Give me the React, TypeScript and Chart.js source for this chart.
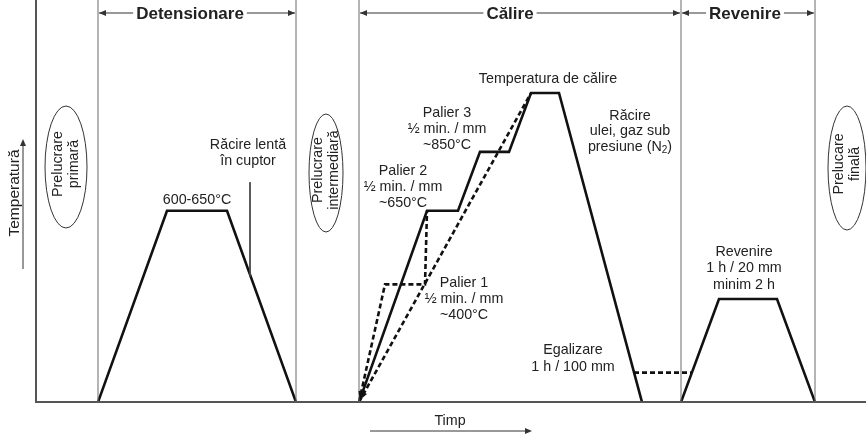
import React, { useEffect, useRef } from "react";
import { Chart, registerables } from "chart.js";
Chart.register(...registerables);

// ---- Data (time in arbitrary units, temperature in °C) ----
const timeMin = -36;
const timeMax = 830;
const tempMin = -122;
const tempMax = 1366;

const separatorTimes = [62, 260, 323, 645, 779];

const detensionareTime = [62, 131, 191, 260];
const detensionareTemp = [0, 650, 650, 0];

const calireTime = [323, 391, 422, 444, 473, 495, 523, 606];
const calireTemp = [0, 650, 650, 850, 850, 1050, 1050, 0];

const palier1Time = [323, 349, 389, 391];
const palier1Temp = [0, 400, 400, 650];

const directTime = [323, 495];
const directTemp = [0, 1050];

const egalizareTime = [598, 656];
const egalizareTemp = [100, 100];

const revenireTime = [645, 683, 741, 779];
const revenireTemp = [0, 350, 350, 0];

const cuptorLeaderTime = [214, 214];
const cuptorLeaderTemp = [747, 425];

const phaseTitles = ["Detensionare", "Călire", "Revenire"];
const processNotes = [
  ["Prelucrare", "primară"],
  ["Prelucrare", "intermediară"],
  ["Prelucare", "finală"],
];
const axisTitles = ["Temperatură", "Timp"];
const noteDetensionare = ["Răcire lentă", "în cuptor"];
const notePlateau = "600-650°C";
const noteCalireTemp = "Temperatura de călire";
const notePalier3 = ["Palier 3", "½ min. / mm", "~850°C"];
const notePalier2 = ["Palier 2", "½ min. / mm", "~650°C"];
const notePalier1 = ["Palier 1", "½ min. / mm", "~400°C"];
const noteRacire = ["Răcire", "ulei, gaz sub", "presiune (N", "2", ")"];
const noteEgalizare = ["Egalizare", "1 h / 100 mm"];
const noteRevenire = ["Revenire", "1 h / 20 mm", "minim 2 h"];

const pts = (xs: number[], ys: number[]) => xs.map((x, i) => ({ x, y: ys[i] }));

const FONT = "'Liberation Sans', Arial, Helvetica, sans-serif";
const TEXT = "#222";
const FS = 14.3;

function arrowHead(ctx: CanvasRenderingContext2D, x: number, y: number, dir: string, len = 7, half = 3) {
  ctx.beginPath();
  if (dir === "left") { ctx.moveTo(x, y); ctx.lineTo(x + len, y - half); ctx.lineTo(x + len, y + half); }
  if (dir === "right") { ctx.moveTo(x, y); ctx.lineTo(x - len, y - half); ctx.lineTo(x - len, y + half); }
  if (dir === "up") { ctx.moveTo(x, y); ctx.lineTo(x - half, y + len); ctx.lineTo(x + half, y + len); }
  ctx.closePath();
  ctx.fill();
}

function arrowAlong(ctx: CanvasRenderingContext2D, fx: number, fy: number, tx: number, ty: number, back: number, len = 8, half = 3) {
  const dx = tx - fx, dy = ty - fy;
  const d = Math.hypot(dx, dy);
  const ux = dx / d, uy = dy / d;
  const px = tx - ux * back, py = ty - uy * back;
  ctx.beginPath();
  ctx.moveTo(px, py);
  ctx.lineTo(px - ux * len - uy * half, py - uy * len + ux * half);
  ctx.lineTo(px - ux * len + uy * half, py - uy * len - ux * half);
  ctx.closePath();
  ctx.fill();
}

function hLine(ctx: CanvasRenderingContext2D, x1: number, x2: number, y: number) {
  ctx.beginPath();
  ctx.moveTo(x1, y);
  ctx.lineTo(x2, y);
  ctx.stroke();
}

function lines(ctx: CanvasRenderingContext2D, arr: string[], x: number, y: number, gap: number) {
  arr.forEach((s, i) => ctx.fillText(s, x, y + i * gap));
}

const annotations = {
  id: "annotations",
  afterDatasetsDraw(chart: any) {
    const ctx: CanvasRenderingContext2D = chart.ctx;
    const xs = chart.scales.x, ys = chart.scales.y;
    ctx.save();
    ctx.textAlign = "center";
    ctx.textBaseline = "middle";
    ctx.fillStyle = TEXT;
    ctx.strokeStyle = "#333";
    ctx.lineWidth = 1;

    // arrowheads of the heating paths at the origin
    ctx.fillStyle = "#111";
    const ox = xs.getPixelForValue(palier1Time[0]), oy = ys.getPixelForValue(palier1Temp[0]);
    arrowAlong(ctx, xs.getPixelForValue(palier1Time[1]), ys.getPixelForValue(palier1Temp[1]), ox, oy, 3);
    arrowAlong(ctx, xs.getPixelForValue(directTime[1]), ys.getPixelForValue(directTemp[1]), ox, oy, 3);
    ctx.fillStyle = TEXT;

    // phase titles with arrows
    const titleY = 13;
    const phases = [
      { t: phaseTitles[0], cx: 190, a: 99, b: 295 },
      { t: phaseTitles[1], cx: 510, a: 360, b: 680 },
      { t: phaseTitles[2], cx: 745, a: 682, b: 814 },
    ];
    ctx.font = `bold 17px ${FONT}`;
    phases.forEach((p) => {
      const w = ctx.measureText(p.t).width;
      ctx.fillText(p.t, p.cx, titleY + 1);
      hLine(ctx, p.a, p.cx - w / 2 - 3, titleY);
      hLine(ctx, p.cx + w / 2 + 3, p.b, titleY);
      ctx.fillStyle = "#333";
      arrowHead(ctx, p.a, titleY, "left");
      arrowHead(ctx, p.b, titleY, "right");
      ctx.fillStyle = TEXT;
    });

    // ellipses with rotated notes
    const ells = [
      { cx: 66, cy: 167, rx: 21, ry: 61, ty: 164, note: processNotes[0] },
      { cx: 326, cy: 173, rx: 17, ry: 59, ty: 170, note: processNotes[1] },
      { cx: 847, cy: 168, rx: 19, ry: 62, ty: 164, note: processNotes[2] },
    ];
    ctx.font = `${FS}px ${FONT}`;
    ells.forEach((e) => {
      ctx.beginPath();
      ctx.ellipse(e.cx, e.cy, e.rx, e.ry, 0, 0, Math.PI * 2);
      ctx.stroke();
      ctx.save();
      ctx.translate(e.cx, e.ty);
      ctx.rotate(-Math.PI / 2);
      ctx.fillText(e.note[0], 0, -8);
      ctx.fillText(e.note[1], 0, 8);
      ctx.restore();
    });

    // axis titles
    ctx.save();
    ctx.translate(15, 193);
    ctx.rotate(-Math.PI / 2);
    ctx.font = `15.5px ${FONT}`;
    ctx.fillText(axisTitles[0], 0, 0);
    ctx.restore();
    ctx.beginPath();
    ctx.moveTo(23, 269);
    ctx.lineTo(23, 144);
    ctx.stroke();
    ctx.fillStyle = "#333";
    arrowHead(ctx, 23, 139, "up");
    ctx.fillStyle = TEXT;

    ctx.fillText(axisTitles[1], 450, 421);
    hLine(ctx, 370, 527, 431);
    ctx.fillStyle = "#333";
    arrowHead(ctx, 532, 431, "right");
    ctx.fillStyle = TEXT;

    // notes
    lines(ctx, noteDetensionare, 248, 145, 16);
    ctx.fillText(notePlateau, 197, 200);
    ctx.fillText(noteCalireTemp, 548, 79);
    lines(ctx, notePalier3, 447, 113, 16);
    lines(ctx, notePalier2, 403, 171, 16);
    lines(ctx, notePalier1, 464, 283, 16);
    ctx.fillText(noteRacire[0], 630, 116);
    ctx.fillText(noteRacire[1], 630, 131);
    // presiune (N2) with subscript
    const main = noteRacire[2];
    ctx.font = `${FS}px ${FONT}`;
    const w1 = ctx.measureText(main).width;
    const w3 = ctx.measureText(noteRacire[4]).width;
    ctx.font = `10px ${FONT}`;
    const w2 = ctx.measureText(noteRacire[3]).width;
    const total = w1 + w2 + w3;
    const x0 = 630 - total / 2;
    ctx.textAlign = "left";
    ctx.font = `${FS}px ${FONT}`;
    ctx.fillText(main, x0, 147);
    ctx.font = `10px ${FONT}`;
    ctx.fillText(noteRacire[3], x0 + w1, 150);
    ctx.font = `${FS}px ${FONT}`;
    ctx.fillText(noteRacire[4], x0 + w1 + w2, 147);
    ctx.textAlign = "center";
    lines(ctx, noteEgalizare, 573, 350, 17);
    lines(ctx, noteRevenire, 744, 252, 16.5);

    ctx.restore();
  },
};

export default function App() {
  const ref = useRef<HTMLCanvasElement>(null);
  useEffect(() => {
    document.body.style.margin = "0";
    const canvas = ref.current!;
    const solid = { borderColor: "#111", borderWidth: 2.6, showLine: true, pointRadius: 0, fill: false, tension: 0 };
    const dashed = { ...solid, borderDash: [5, 3] };
    const thin = { borderColor: "#6a6a6a", borderWidth: 1, showLine: true, pointRadius: 0, fill: false, tension: 0 };
    const datasets: any[] = [
      ...separatorTimes.map((t) => ({ ...thin, data: pts([t, t], [0, tempMax]) })),
      { ...thin, borderColor: "#555", borderWidth: 2, data: pts([0, 0, timeMax], [tempMax, 0, 0]) },
      { ...thin, borderColor: "#444", data: pts(cuptorLeaderTime, cuptorLeaderTemp) },
      { ...solid, data: pts(detensionareTime, detensionareTemp) },
      { ...solid, data: pts(calireTime, calireTemp) },
      { ...dashed, data: pts(palier1Time, palier1Temp) },
      { ...dashed, data: pts(directTime, directTemp) },
      { ...dashed, data: pts(egalizareTime, egalizareTemp) },
      { ...solid, data: pts(revenireTime, revenireTemp) },
    ];
    const chart = new Chart(canvas, {
      type: "scatter",
      data: { datasets },
      options: {
        responsive: false,
        maintainAspectRatio: false,
        animation: false,
        events: [],
        layout: { padding: 0 },
        plugins: { legend: { display: false }, tooltip: { enabled: false } },
        scales: {
          x: { type: "linear", min: timeMin, max: timeMax, display: false },
          y: { type: "linear", min: tempMin, max: tempMax, display: false },
        },
      },
      plugins: [annotations],
    } as any);
    return () => chart.destroy();
  }, []);
  return (
    <div style={{ width: 866, height: 438, background: "#fff" }}>
      <canvas ref={ref} width={866} height={438} style={{ display: "block" }} />
    </div>
  );
}
